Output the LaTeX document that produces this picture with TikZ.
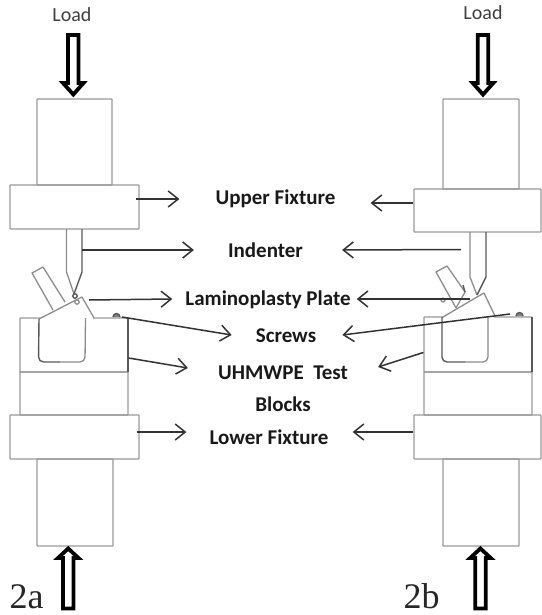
\documentclass[tikz,border=0pt]{standalone}
\usepackage{fontspec}
\setmainfont{Carlito}
\newfontfamily\serifnum{Liberation Serif}
\usetikzlibrary{arrows.meta,positioning}

\begin{document}
\begin{tikzpicture}[
		x=1pt, y=-1pt,
		part/.style   = {draw=black!40, line width=1.2pt, rectangle, inner sep=0pt, rounded corners=0.5pt},
		outline/.style = {draw=black!45, line width=1.3pt, line join=round},
		darkline/.style = {draw=black!65, line width=1.4pt, line join=round},
		label/.style  = {font=\bfseries\fontsize{21}{25}\selectfont, text=black!90, inner sep=0pt, align=center},
		load/.style   = {font=\fontsize{20}{24}\selectfont, text=black!75, inner sep=0pt},
		tag/.style    = {font=\serifnum\fontsize{36}{38}\selectfont, text=black!85, inner sep=0pt, anchor=base},
		pointer/.style = {draw=black!80, line width=1.5pt, -{Straight Barb[length=10pt,width=16pt,line width=1.5pt]}},
		force/.style  = {draw=black, line width=3.8pt, fill=white, line join=miter},
		>=latex]
		
		\useasboundingbox (0,0) rectangle (541,615);
		
		% left rig, column and fixtures
		\node[part, minimum width=75pt, minimum height=86pt] (colUL) at (74.5,142) {};
		\node[part, minimum width=129pt, minimum height=44pt] (fixUL) at (74.5,207) {};
		\node[part, minimum width=108pt, minimum height=54pt] (blockL) at (74,345) {};
		\node[part, minimum width=108pt, minimum height=43pt] (testL) at (74,393.5) {};
		\node[part, minimum width=129pt, minimum height=44pt] (fixLL) at (74.5,437) {};
		\node[part, minimum width=76pt, minimum height=87pt] (colLL) at (75,502.5) {};
		
		% right rig, column and fixtures
		\node[part, minimum width=76pt, minimum height=90pt] (colUR) at (481,144) {};
		\node[part, minimum width=127pt, minimum height=43pt] (fixUR) at (477.5,210.5) {};
		\node[part, minimum width=108pt, minimum height=55pt] (blockR) at (478,344.5) {};
		\node[part, minimum width=108pt, minimum height=43pt] (testR) at (478,393.5) {};
		\node[part, minimum width=127pt, minimum height=44pt] (fixLR) at (477.5,437) {};
		\node[part, minimum width=76pt, minimum height=87pt] (colLR) at (481,502.5) {};
		
		% left indenter, tab, plate and cavity
		\fill[white] (40,316) rectangle (93,320);
		\draw[outline] (66.5,229) -- (66.5,272) -- (74,294);
		\draw[darkline] (82,229) -- (82,272) -- (74,294);
		\draw[outline] (53,310) -- (32,273) -- (43,267) -- (65,302);
		\draw[outline] (39,319) -- (72,302) -- (82,297) -- (94,318);
		\draw[darkline, rounded corners=5pt] (39,319) -- (38.5,362) -- (60,362);
		\draw[outline, rounded corners=5pt] (60,362) -- (85,362) -- (85.5,318);
		\draw[fill=white, outline] (77,302) circle (2.2pt);
		\draw[darkline] (75,296) circle (2.2pt);
		\draw[darkline] (128,318) -- (128,372);
		\draw[darkline, fill=black!50] (113,317) arc (180:0:3.5pt);
		
		% right indenter, tab, plate and cavity
		\fill[white] (444,315) rectangle (494,319);
		\draw[outline] (470,232) -- (470,277) -- (477,295);
		\draw[darkline] (486,232) -- (486,277) -- (477,295);
		\draw[outline] (456,308) -- (436,272) -- (447,266) -- (465,292) -- (456,308);
		\draw[outline] (443,317) -- (477,297) -- (484,293) -- (495,316);
		\draw[darkline, rounded corners=5pt] (442,317) -- (442,362) -- (465,362);
		\draw[outline, rounded corners=5pt] (465,362) -- (488,362) -- (488,317);
		\draw[darkline] (463,285) -- (465,292);
		\draw[outline] (443,300) circle (2pt);
		\draw[darkline] (532,317) -- (532,372);
		\draw[darkline, fill=black!50] (516,316) arc (180:0:3.5pt);
		
		% labels in the middle
		\node[label] (lblUpper) at (275.5,199) {Upper Fixture};
		\node[label] (lblIndenter) at (265.5,250) {Indenter};
		\node[label] (lblPlate) at (268,300) {Laminoplasty Plate};
		\node[label] (lblScrews) at (286,336) {Screws};
		\node[label, font=\bfseries\fontsize{21}{32}\selectfont] (lblTest) at (283,389) {UHMWPE\ \ Test\\Blocks};
		\node[label] (lblLower) at (269,437) {Lower Fixture};
		
		% free arrow ends
		\coordinate (indL) at (82,250);
		\coordinate (indR) at (461,249.5);
		\coordinate (plateL) at (89,300);
		\coordinate (plateR) at (470,299);
		\coordinate (screwL) at (122,317);
		\coordinate (screwR) at (510,314);
		
		% arrows from the left rig
		\draw[pointer] ([xshift=-4pt,yshift=8pt]fixUL.east) -- ([xshift=-36pt]lblUpper.west);
		\draw[pointer] (indL) -- ([xshift=-34pt]lblIndenter.west);
		\draw[pointer] (plateL) -- ([xshift=-13pt,yshift=1pt]lblPlate.west);
		\draw[pointer] (screwL) -- ([xshift=-24pt,yshift=1pt]lblScrews.west);
		\draw[pointer] ([yshift=-13pt]blockL.east) -- ([xshift=-30pt,yshift=21pt]lblTest.west);
		\draw[pointer] ([xshift=-3pt,yshift=5pt]fixLL.east) -- ([xshift=-23pt,yshift=5pt]lblLower.west);
		
		% arrows from the right rig
		\draw[pointer] ([yshift=7.5pt]fixUR.west) -- ([xshift=35pt,yshift=-4pt]lblUpper.east);
		\draw[pointer] (indR) -- ([xshift=39pt]lblIndenter.east);
		\draw[pointer] (plateR) -- ([xshift=6pt,yshift=1pt]lblPlate.east);
		\draw[pointer] (screwR) -- ([xshift=26pt,yshift=1pt]lblScrews.east);
		\draw[pointer] ([yshift=-8pt]blockR.west) -- ([xshift=30pt,yshift=22pt]lblTest.east);
		\draw[pointer] ([yshift=5pt]fixLR.west) -- ([xshift=24pt,yshift=5pt]lblLower.east);
		
		% load arrows
		\node[load] (loadL) at (72,15) {Load};
		\node[load] (loadR) at (483,13) {Load};
		\draw[force] (68,35) -- (78.5,35) -- (78.5,83) -- (83.5,83) -- (73.3,94.5) -- (63,83) -- (68,83) -- cycle;
		\draw[force] (477.7,35) -- (488.3,35) -- (488.3,83) -- (493.3,83) -- (483,94.5) -- (472.7,83) -- (477.7,83) -- cycle;
		\draw[force] (63,608.5) -- (73.5,608.5) -- (73.5,558) -- (78.5,558) -- (68.2,548.5) -- (58,558) -- (63,558) -- cycle;
		\draw[force] (475.2,608.5) -- (485.7,608.5) -- (485.7,558) -- (490.7,558) -- (480.4,548.5) -- (470.2,558) -- (475.2,558) -- cycle;
		
		% figure tags
		\node[tag] (tagA) at (26.5,608) {2a};
		\node[tag] (tagB) at (421.5,608) {2b};
		
	\end{tikzpicture}
\end{document}
